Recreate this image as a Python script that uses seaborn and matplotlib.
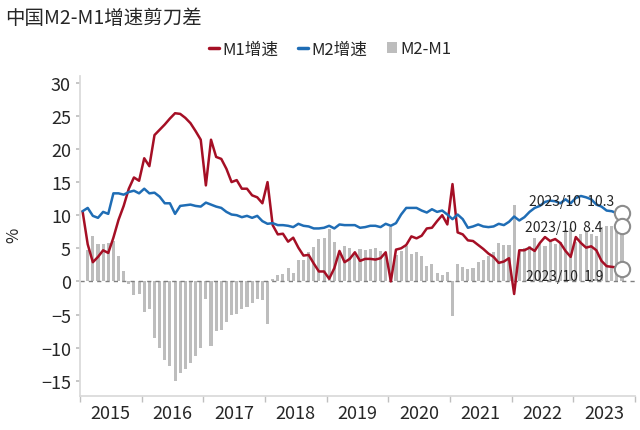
import numpy as np
import pandas as pd
import matplotlib
matplotlib.use("Agg")
import matplotlib.pyplot as plt
import seaborn as sns
from matplotlib.lines import Line2D
from matplotlib.patches import Patch

# 月度数据 2015-01 ~ 2023-10
months = pd.period_range("2015-01", "2023-10", freq="M")
years = [2015, 2016, 2017, 2018, 2019, 2020, 2021, 2022, 2023]

m1 = [10.6, 5.6, 2.9, 3.7, 4.7, 4.3, 6.6, 9.3, 11.4, 14.0, 15.7, 15.2,
      18.6, 17.4, 22.1, 22.9, 23.7, 24.6, 25.4, 25.3, 24.7, 23.9, 22.7, 21.4,
      14.5, 21.4, 18.8, 18.5, 17.0, 15.0, 15.3, 14.0, 14.0, 13.0, 12.7, 11.8,
      15.0, 8.5, 7.1, 7.2, 6.0, 6.6, 5.1, 3.9, 4.0, 2.7, 1.5, 1.5,
      0.4, 2.0, 4.6, 2.9, 3.4, 4.4, 3.1, 3.4, 3.4, 3.3, 3.5, 4.4,
      0.0, 4.8, 5.0, 5.5, 6.8, 6.5, 6.9, 8.0, 8.1, 9.1, 10.0, 8.6,
      14.7, 7.4, 7.1, 6.2, 6.1, 5.5, 4.9, 4.2, 3.7, 2.8, 3.0, 3.5,
      -1.9, 4.7, 4.7, 5.1, 4.6, 5.8, 6.7, 6.1, 6.4, 5.8, 4.6, 3.7,
      6.7, 5.8, 5.1, 5.3, 4.7, 3.1, 2.3, 2.2, 2.1, 1.9]

m2 = [10.6, 11.1, 9.9, 9.6, 10.5, 10.2, 13.3, 13.3, 13.1, 13.5, 13.7, 13.3,
      14.0, 13.3, 13.4, 12.8, 11.8, 11.8, 10.2, 11.4, 11.5, 11.6, 11.4, 11.3,
      11.9, 11.6, 11.3, 11.1, 10.5, 10.1, 10.0, 9.7, 9.9, 9.6, 9.9, 9.1,
      8.7, 8.8, 8.5, 8.5, 8.4, 8.2, 8.7, 8.4, 8.3, 8.0, 8.0, 8.1,
      8.4, 8.0, 8.6, 8.5, 8.5, 8.5, 8.1, 8.2, 8.4, 8.4, 8.2, 8.7,
      8.4, 8.8, 10.1, 11.1, 11.1, 11.1, 10.7, 10.4, 10.9, 10.5, 10.7, 10.1,
      9.4, 10.1, 9.4, 8.1, 8.3, 8.6, 8.3, 8.2, 8.3, 8.7, 8.5, 9.0,
      9.8, 9.2, 9.7, 10.5, 11.1, 11.4, 12.0, 12.2, 12.1, 11.8, 12.4, 11.8,
      12.6, 12.9, 12.7, 12.4, 11.6, 11.3, 10.7, 10.6, 10.3, 10.3]

gap = [0.0, 4.8, 6.8, 5.7, 5.7, 5.8, 6.1, 3.9, 1.6, -0.4, -2.0, -1.9,
       -4.6, -4.1, -8.6, -10.1, -11.9, -12.8, -15.1, -13.9, -13.2, -12.3, -11.3, -10.1,
       -2.6, -9.8, -7.5, -7.3, -6.1, -5.0, -4.9, -4.1, -3.8, -3.2, -2.7, -2.8,
       -6.4, 0.3, 0.9, 1.1, 2.1, 1.3, 3.2, 3.3, 4.5, 5.2, 6.4, 6.5,
       7.9, 5.9, 4.1, 5.4, 5.0, 4.1, 4.9, 4.7, 4.9, 5.0, 4.6, 4.2,
       8.2, 4.0, 4.6, 5.3, 4.2, 4.5, 3.8, 2.4, 2.6, 1.3, 1.0, 1.4,
       -5.3, 2.7, 2.2, 1.9, 2.1, 3.0, 3.3, 3.9, 4.5, 5.8, 5.5, 5.5,
       11.6, 4.5, 5.0, 5.4, 6.5, 5.6, 5.3, 6.1, 5.7, 6.0, 7.8, 8.1,
       5.9, 7.1, 7.6, 7.1, 6.9, 8.2, 8.4, 8.4, 8.2, 8.4]

df = pd.DataFrame({"month": months.astype(str), "M1": m1, "M2": m2, "gap": gap})
df["pos"] = np.arange(len(df))

red = "#A50F25"
blue = "#1F6DB5"
grey = "#BDBDBD"

sns.set_theme(style="white")
plt.rcParams["font.family"] = ["Liberation Sans Narrow", "Noto Sans CJK SC", "DejaVu Sans"]

fig = plt.figure(figsize=(6.4, 4.31), dpi=100)
ax = fig.add_axes([0.125, 0.079, 0.867, 0.742])

sns.barplot(data=df, x="pos", y="gap", native_scale=True, color=grey,
            saturation=1, width=0.6, errorbar=None, ax=ax, zorder=1)
# 柱宽调成每月 0.6
for p in ax.patches:
    c = p.get_x() + p.get_width() / 2
    p.set_width(0.6)
    p.set_x(c - 0.3)
    p.set_edgecolor("none")

ax.axhline(0, color="#808080", lw=1, ls=(0, (3, 3)), zorder=2)
sns.lineplot(data=df, x="pos", y="M1", color=red, lw=1.8, ax=ax, zorder=3)
sns.lineplot(data=df, x="pos", y="M2", color=blue, lw=1.8, ax=ax, zorder=3)

# 最新值标注
last = df.iloc[-1]
for col, dx, dy in [("M2", -6, 8.6), ("gap", -14, -1), ("M1", -13.5, -5.5)]:
    ax.plot(last["pos"], last[col], "o", ms=11, mfc="white", mec="#8C8C8C",
            mew=1.5, zorder=4)
    ax.annotate(f"2023/10  {last[col]:.1f}", xy=(last["pos"], last[col]),
                xytext=(dx, dy), textcoords="offset points", ha="right",
                va="center", fontsize=10, family=["Noto Sans CJK SC"], zorder=5)

ax.set_xlim(-0.5, 107.5)
ax.set_ylim(-17.3, 31.0)
ax.set_xticks(np.arange(-0.5, 108, 12))
ax.set_xticklabels([])
ax.set_xticks(np.arange(5.5, 108, 12), minor=True)
ax.set_xticklabels([str(y) for y in years], minor=True, fontsize=13)
ax.tick_params(axis="x", which="major", length=4, color="#BFBFBF", width=1, bottom=True)
ax.tick_params(axis="x", which="minor", length=0, pad=6)
ax.set_yticks(range(-15, 31, 5))
ax.tick_params(axis="y", labelsize=13, length=3, color="#BFBFBF", left=True)
ax.set_xlabel("")
ax.set_ylabel("")
for s in ["top", "right"]:
    ax.spines[s].set_visible(False)
for s in ["left", "bottom"]:
    ax.spines[s].set_color("#D9D9D9")

fig.text(0.022, 0.455, "%", rotation=90, fontsize=12, va="center", ha="center")
fig.text(0.008, 0.958, "中国M2-M1增速剪刀差", fontsize=14, va="center",
         family=["Noto Sans CJK SC"])

handles = [Line2D([0], [0], color=red, lw=2.5),
           Line2D([0], [0], color=blue, lw=2.5),
           Patch(facecolor=grey, edgecolor="none")]
fig.legend(handles, ["M1增速", "M2增速", "M2-M1"], loc="center",
           bbox_to_anchor=(0.516, 0.884), ncol=3, frameon=False,
           handlelength=0.6, handleheight=0.6, handletextpad=0.2,
           columnspacing=1.2, fontsize=12)

fig.savefig("out.png", dpi=100)
